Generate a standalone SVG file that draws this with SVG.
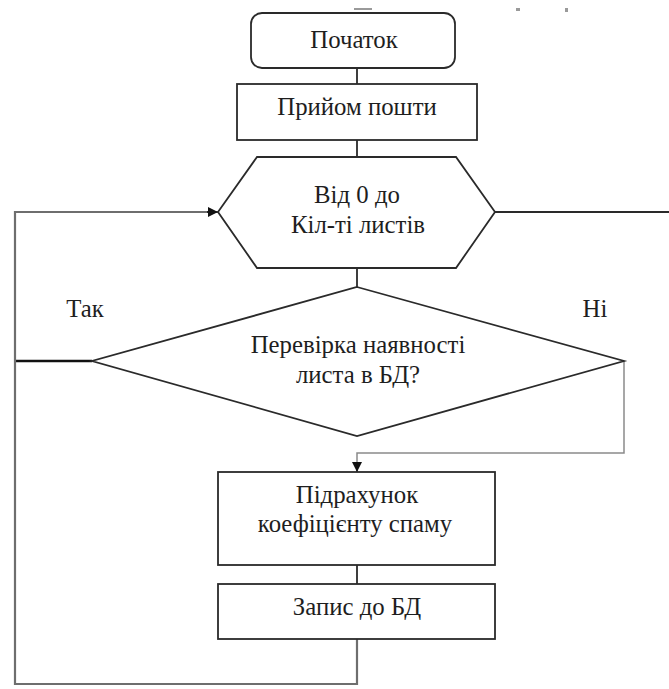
<svg xmlns="http://www.w3.org/2000/svg" width="669" height="689" viewBox="0 0 669 689">
  <style>
    .shape { fill: #fff; stroke: #2a2a2a; stroke-width: 1.8; }
    .label { font-family: "Liberation Serif", "Times New Roman", serif; font-size: 24.8px; fill: #1e1e1e; text-anchor: middle; }
    .line { fill: none; stroke: #2a2a2a; stroke-width: 1.8; }
    .loop { fill: none; stroke: #6e6e6e; stroke-width: 2.2; }
    .thin { fill: none; stroke: #8a8a8a; stroke-width: 1.5; }
  </style>
  <defs>
    <marker id="arrow" viewBox="0 0 10 10" refX="10" refY="5" markerWidth="10" markerHeight="10" markerUnits="userSpaceOnUse" orient="auto">
      <path d="M0,0 L10,5 L0,10 Z" fill="#111"/>
    </marker>
  </defs>
  <rect width="669" height="689" fill="#fff"/>

  <!-- cut-off marks along the top edge -->
  <g fill="#9a9a9a">
    <rect x="354" y="8" width="18" height="2"/>
    <rect x="516" y="8" width="4" height="3"/>
    <rect x="565" y="8" width="3" height="4"/>
  </g>

  <!-- connectors -->
  <g id="connectors">
    <line class="line" x1="357" y1="68" x2="357" y2="84"/>
    <line class="line" x1="357" y1="140" x2="357" y2="157"/>
    <line class="line" x1="357" y1="268" x2="357" y2="287"/>
    <line class="line" x1="357" y1="565" x2="357" y2="584"/>
    <!-- loop exit to the right -->
    <line class="line" x1="495" y1="212" x2="669" y2="212" stroke="#3a3a3a"/>
    <!-- "yes" branch back to the loop head -->
    <line x1="14" y1="361" x2="92" y2="361" stroke="#111" stroke-width="2.6"/>
    <path class="loop" d="M357,639 V684 H15 V212 H208"/>
    <line x1="207" y1="212" x2="218" y2="212" stroke="#111" stroke-width="1.5" marker-end="url(#arrow)"/>
    <!-- "no" branch to the spam calculation -->
    <line class="thin" x1="592" y1="361" x2="624" y2="361"/>
    <path class="thin" d="M624,361 V453 H357 V464"/>
    <line x1="357" y1="462" x2="357" y2="472" stroke="#111" stroke-width="1.5" marker-end="url(#arrow)"/>
  </g>

  <g id="start">
    <rect class="shape" x="251" y="13" width="204" height="55" rx="11"/>
    <text class="label" x="354" y="48">Початок</text>
  </g>

  <g id="receive">
    <rect class="shape" x="237" y="84" width="240" height="56"/>
    <text class="label" x="357" y="115">Прийом пошти</text>
  </g>

  <g id="loop">
    <polygon class="shape" points="218,212 257,157 456,157 495,212 456,268 257,268"/>
    <text class="label" x="357" y="203">Від 0 до</text>
    <text class="label" x="358" y="233">Кіл-ті листів</text>
  </g>

  <g id="check">
    <polygon class="shape" points="357,287 624,361 357,436 92,361"/>
    <text class="label" x="358" y="353">Перевірка наявності</text>
    <text class="label" x="358" y="383">листа в БД?</text>
  </g>

  <g id="branch-labels">
    <text class="label" x="85" y="317">Так</text>
    <text class="label" x="595" y="317">Ні</text>
  </g>

  <g id="spam">
    <rect class="shape" x="218" y="472" width="277" height="93"/>
    <text class="label" x="357" y="503">Підрахунок</text>
    <text class="label" x="355" y="532">коефіцієнту спаму</text>
  </g>

  <g id="store">
    <rect class="shape" x="218" y="584" width="277" height="55"/>
    <text class="label" x="357" y="615">Запис до БД</text>
  </g>
</svg>
